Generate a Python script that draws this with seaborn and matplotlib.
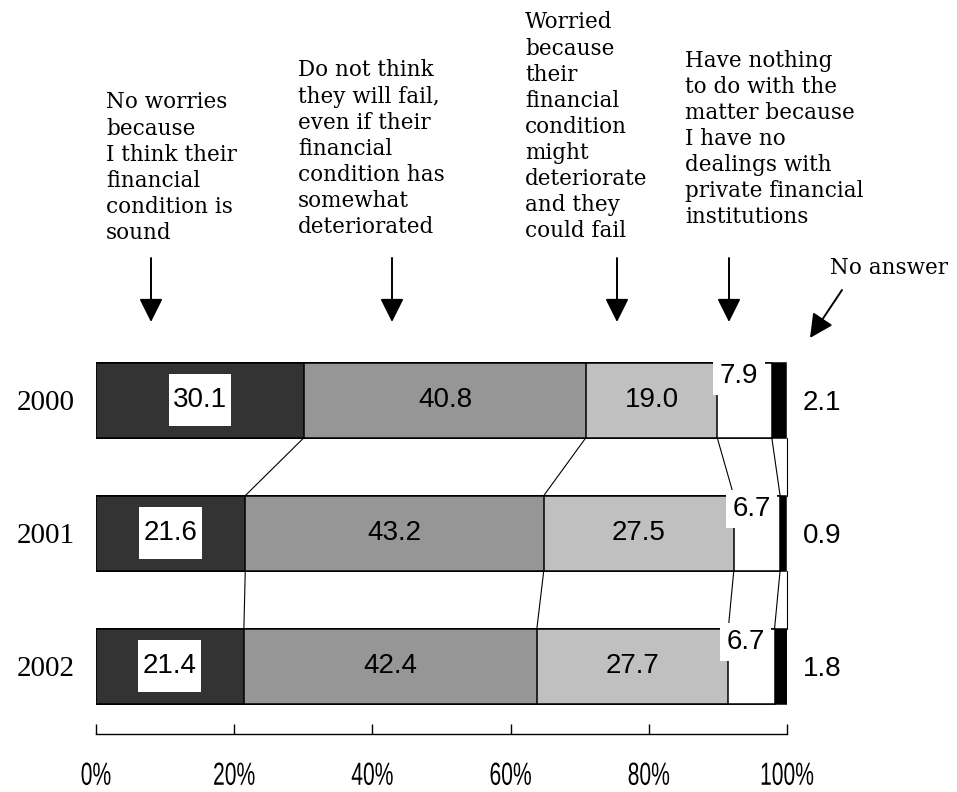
import matplotlib
matplotlib.use("Agg")
import matplotlib.pyplot as plt
import matplotlib.patheffects as pe
from matplotlib.patches import Rectangle, FancyArrowPatch
from matplotlib.transforms import Affine2D
import seaborn as sns
import numpy as np
import pandas as pd

# ---- data ----
years = ["2000", "2001", "2002"]
no_worries = [30.1, 21.6, 21.4]
not_fail = [40.8, 43.2, 42.4]
worried = [19.0, 27.5, 27.7]
nothing = [7.9, 6.7, 6.7]
no_answer = [2.1, 0.9, 1.8]
categories = [
    "No worries\nbecause\nI think their\nfinancial\ncondition is\nsound",
    "Do not think\nthey will fail,\neven if their\nfinancial\ncondition has\nsomewhat\ndeteriorated",
    "Worried\nbecause\ntheir\nfinancial\ncondition\nmight\ndeteriorate\nand they\ncould fail",
    "Have nothing\nto do with the\nmatter because\nI have no\ndealings with\nprivate financial\ninstitutions",
    "No answer",
]
tick_vals = [0, 20, 40, 60, 80, 100]
tick_labels = ["0%", "20%", "40%", "60%", "80%", "100%"]

series = [no_worries, not_fail, worried, nothing, no_answer]
colors = ["#333333", "#969696", "#c0c0c0", "#ffffff", "#000000"]

sns.set_theme(style="white")
plt.rcParams["font.family"] = ["DejaVu Sans"]
plt.rcParams["text.color"] = "black"
plt.rcParams["xtick.color"] = "black"
plt.rcParams["ytick.color"] = "black"
plt.rcParams["axes.labelcolor"] = "black"


class HScale(pe.AbstractPathEffect):
    """Horizontally compress a text around its anchor point."""
    def __init__(self, sx):
        super().__init__()
        self.sx = sx
        self.text = None

    def draw_path(self, renderer, gc, tpath, affine, rgbFace=None):
        x0 = self.text.get_transform().transform(self.text.get_position())[0]
        aff = affine + Affine2D().translate(-x0, 0).scale(self.sx, 1).translate(x0, 0)
        renderer.draw_path(gc, tpath, aff, rgbFace)


W, H = 957, 792
fig = plt.figure(figsize=(W / 100, H / 100), dpi=100)

def fx(px):
    return px / W

def fy(py):
    return 1 - py / H

x0_px, x1_px = 96, 787
ax_top_px, ax_bot_px = 340, 734
ax = fig.add_axes([fx(x0_px), fy(ax_bot_px), fx(x1_px) - fx(x0_px), (ax_bot_px - ax_top_px) / H])

vals = np.array(series)  # shape (5, 3)
cum = np.cumsum(vals, axis=0)
bar_w = 0.564

# draw cumulative bars from largest to smallest so they stack visually
for i in range(len(series) - 1, -1, -1):
    df = pd.DataFrame({"year": years, "v": cum[i]})
    sns.barplot(data=df, x="v", y="year", orient="h", color=colors[i],
                edgecolor="black", linewidth=1.1, width=bar_w, ax=ax,
                saturation=1, zorder=2)

ax.set_xlim(0, 100)
ax.set_ylim(2.51, -0.452)
ax.set_xlabel("")
ax.set_ylabel("")
for s in ["top", "right", "left"]:
    ax.spines[s].set_visible(False)
ax.spines["bottom"].set_color("black")
ax.spines["bottom"].set_linewidth(1.0)
ax.set_xticks(tick_vals)
ax.set_xticklabels(tick_labels, family=["Liberation Sans", "DejaVu Sans"], fontsize=23)
ax.tick_params(axis="x", direction="in", length=7, width=1, color="black", pad=20, bottom=True)
ax.tick_params(axis="y", length=0, pad=15)
for lab in ax.get_xticklabels():
    eff = HScale(0.66)
    eff.text = lab
    lab.set_path_effects([eff])
for lab in ax.get_yticklabels():
    lab.set_family(["Liberation Serif", "DejaVu Serif"])
    lab.set_fontsize(21)

# connector lines between bars
half = bar_w / 2
bounds = list(cum[:4]) + [np.full(3, 100.0)]
for b in bounds:
    for j in range(len(years) - 1):
        ax.plot([b[j], b[j + 1]], [j + half, j + 1 - half], color="black", lw=0.8,
                zorder=1, clip_on=False)

# value labels
sans = ["Liberation Sans", "DejaVu Sans"]
for i, s in enumerate(series):
    for j, v in enumerate(s):
        left = cum[i][j] - v
        if i == 0:
            cx = left + v / 2
            ax.add_patch(Rectangle((cx - 4.55, j - 0.195), 9.1, 0.39, facecolor="white",
                                   edgecolor="none", zorder=5))
            ax.text(cx, j, f"{v:.1f}", ha="center", va="center", fontsize=20,
                    family=sans, zorder=6)
        elif i in (1, 2):
            ax.text(left + v / 2, j, f"{v:.1f}", ha="center", va="center", fontsize=20,
                    family=sans, zorder=6)
        elif i == 3:
            ax.text(left + v / 2 - 0.8, j - half + 0.1, f"{v:.1f}", ha="center", va="center",
                    fontsize=20, family=sans, zorder=6,
                    bbox=dict(facecolor="white", edgecolor="none", pad=4.5))
        else:
            ax.text(102.3, j + 0.02, f"{v:.1f}", ha="left", va="center", fontsize=20,
                    family=sans, zorder=6, clip_on=False)

# category annotations
text_pos = [(106, 91.5), (298, 59.5), (525, 11.5), (685, 49.5), (830, 256.5)]
serif = ["DejaVu Serif", "Liberation Serif"]
for (px, py), t in zip(text_pos, categories):
    fig.text(fx(px), fy(py), t, ha="left", va="top", fontsize=15.5, family=serif,
             linespacing=1.24, color="black")

arrow_style = "-|>,head_length=0.8,head_width=0.4"
arrow_x = [151, 392, 617, 729]
for axp in arrow_x:
    fig.add_artist(FancyArrowPatch(
        (fx(axp), fy(258)), (fx(axp), fy(322)), transform=fig.transFigure,
        arrowstyle=arrow_style, mutation_scale=18, color="black", lw=1.4,
        shrinkA=0, shrinkB=0))
fig.add_artist(FancyArrowPatch(
    (fx(842), fy(290)), (fx(810), fy(338)), transform=fig.transFigure,
    arrowstyle=arrow_style, mutation_scale=18, color="black", lw=1.4,
    shrinkA=0, shrinkB=0))

fig.savefig("out.png", dpi=100, facecolor="white")
